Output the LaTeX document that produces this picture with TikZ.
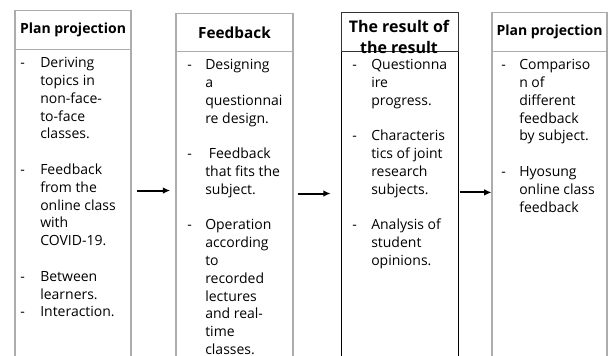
\documentclass[tikz,border=0pt]{standalone}
\usepackage{fontspec}
\setmainfont{Open Sans}
\usepackage{array}
\usetikzlibrary{positioning, calc, arrows.meta}
\tikzstyle{col}=[draw=gray!65, line width=0.8pt, minimum width=87pt, minimum height=270pt, anchor=north, inner sep=0pt]
\tikzstyle{head}=[draw=gray!65, line width=0.8pt, minimum width=87pt, minimum height=29.25pt, inner sep=0pt, font=\bfseries\fontsize{10.5}{13}\selectfont]
\tikzstyle{body}=[anchor=north west, inner sep=0pt, font=\fontsize{10.5}{13.35}\selectfont]
\tikzstyle{flow}=[-{Latex[length=5.5pt,width=5pt]}, line width=1.5pt]

\newcommand{\steplist}[2][15pt]{\begin{tabular}{@{}p{#1}@{}l@{}}#2\end{tabular}}

\begin{document}
\begin{tikzpicture}[x=0.75pt, y=-0.75pt]
    \useasboundingbox (0,0) rectangle (608,356);
    \clip (0,0) rectangle (608,356);

    % columns
    \node [col] (c1) at (73,10) {};
    \node [col, minimum width=87.75pt] (c2) at (234.5,13) {};
    \node [col, draw=black, line width=0.6pt, minimum width=87.75pt] (c3) at (399.5,12) {};
    \node [col, minimum width=86.25pt] (c4) at (549.5,12) {};

    % headers
    \node [head, below=0pt of c1.north] (h1) {Plan projection};
    \node [head, minimum width=87.75pt, minimum height=28.5pt, below=0pt of c2.north,
           font=\bfseries\fontsize{11.5}{14}\selectfont] (h2) {Feedback};
    \node [head, draw=black!80, line width=0.6pt, minimum width=87.75pt, below=0pt of c3.north] (h3) {};
    \node [align=center, font=\bfseries\fontsize{12}{15.75}\selectfont] (t3) at (399,37)
          {The result of\\the result};
    \node [head, minimum width=86.25pt, below=0pt of c4.north] (h4) {Plan projection};

    % texts
    \node [body] (b1) at (20,55) {\steplist{
        - & Deriving\\ & topics in\\ & non-face-\\ & to-face\\ & classes.\\ & \\
        - & Feedback\\ & from the\\ & online class\\ & with\\ & COVID-19.\\ & \\
        - & Between\\ & learners.\\
        - & Interaction.}};
    \node [body] (b2) at (187,57) {\steplist[13.5pt]{
        - & Designing\\ & a\\ & questionnai\\ & re design.\\ & \\
        - & \ Feedback\\ & that fits the\\ & subject.\\ & \\
        - & Operation\\ & according\\ & to\\ & recorded\\ & lectures\\ & and real-\\ & time\\ & classes.}};
    \node [body] (b3) at (352,57) {\steplist[14.25pt]{
        - & Questionna\\ & ire\\ & progress.\\ & \\
        - & Characteris\\ & tics of joint\\ & research\\ & subjects.\\ & \\
        - & Analysis of\\ & student\\ & opinions.}};
    \node [body] (b4) at (501,57) {\steplist[13.5pt]{
        - & Compariso\\ & n of\\ & different\\ & feedback\\ & by subject.\\ & \\
        - & Hyosung\\ & online class\\ & feedback}};

    % arrows
    \draw [flow, shorten <=3.75pt, shorten >=4pt] (c1.east) -- (c1.east -| c2.west);
    \draw [flow, shorten <=3pt, shorten >=7.5pt] (c2.east) -- (c2.east -| c3.west);
    \draw [flow, shorten <=1pt, shorten >=0pt] (c3.east) -- (c3.east -| c4.west);

\end{tikzpicture}
\end{document}
